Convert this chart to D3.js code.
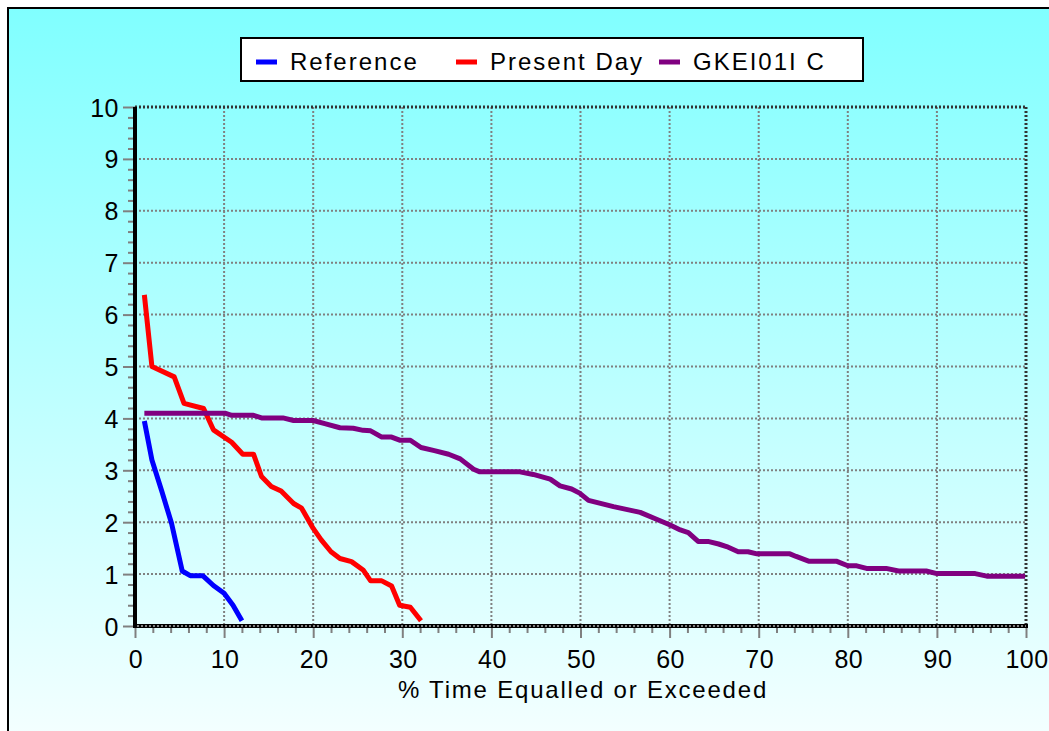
<!DOCTYPE html>
<html>
<head>
<meta charset="utf-8">
<script src="https://cdn.jsdelivr.net/npm/d3@7"></script>
<style>
  body { margin: 0; background: #fff; }
  svg { display: block; font-family: "Liberation Sans", Arial, sans-serif; }
</style>
</head>
<body>
<div class="chart"></div>
<script>

///////////////////////////////////////////////////
//  Data
///////////////////////////////////////////////////

const seriesNames = ['Reference', 'Present Day', 'GKEI01I C'];
const seriesColors = ['#0000ff', '#ff0000', '#800080'];

const refX = [1.05, 1.9, 3.0, 4.1, 5.3, 6.2, 7.6, 8.8, 10.0, 11.0, 12.0];
const refY = [3.95, 3.2, 2.6, 1.98, 1.06, 0.97, 0.97, 0.78, 0.63, 0.4, 0.1];

const presentX = [1.05, 1.9, 4.4, 5.5, 7.7, 8.8, 10.85, 12.1, 13.3, 14.2, 15.3, 16.4,
  17.8, 18.7, 20.0, 20.9, 22.0, 23.0, 24.3, 25.6, 26.45, 27.7, 28.8, 29.7, 30.9, 32.1];
const presentY = [6.38, 5.0, 4.8, 4.29, 4.19, 3.78, 3.54, 3.31, 3.31, 2.88, 2.69, 2.6,
  2.36, 2.27, 1.88, 1.66, 1.43, 1.3, 1.24, 1.08, 0.87, 0.87, 0.77, 0.4, 0.36, 0.1];

const gkeiX = [1.05, 10.1, 10.85, 13.3, 14.2, 16.6, 17.8, 20.0, 21.3, 23.0, 24.5, 25.6,
  26.45, 27.7, 28.8, 29.7, 30.9, 32.1, 33.6, 35.2, 36.5, 38.0, 38.7, 43.2, 44.7, 46.6,
  47.7, 49.0, 49.9, 50.9, 53.7, 56.7, 58.2, 60.0, 61.2, 62.1, 63.2, 64.3, 65.5, 66.4,
  67.7, 68.8, 69.8, 73.5, 74.2, 75.6, 78.7, 80.0, 81.0, 82.1, 84.3, 85.7, 88.8, 90.0,
  94.3, 95.6, 99.9];
const gkeiY = [4.1, 4.1, 4.06, 4.06, 4.01, 4.01, 3.96, 3.96, 3.9, 3.82, 3.81, 3.77,
  3.76, 3.64, 3.64, 3.58, 3.58, 3.44, 3.38, 3.31, 3.22, 3.02, 2.97, 2.97, 2.92, 2.83,
  2.7, 2.64, 2.56, 2.42, 2.3, 2.19, 2.08, 1.95, 1.85, 1.8, 1.63, 1.63, 1.58, 1.53,
  1.43, 1.43, 1.39, 1.39, 1.34, 1.25, 1.25, 1.16, 1.16, 1.11, 1.11, 1.06, 1.06, 1.01,
  1.01, 0.96, 0.96];

const xTicks = [0, 10, 20, 30, 40, 50, 60, 70, 80, 90, 100];
const yTicks = [0, 1, 2, 3, 4, 5, 6, 7, 8, 9, 10];
const xTitle = '% Time Equalled or Exceeded';

///////////////////////////////////////////////////
//  Main code
///////////////////////////////////////////////////

const width = 1049;
const height = 731;
const plot = { left: 135, right: 1026, top: 107, bottom: 626 };
const grey = '#808080';

let svg = d3.select('.chart')
  .append('svg')
    .attr('width', width)
    .attr('height', height);

// background gradient
let grad = svg.append('defs')
  .append('linearGradient')
    .attr('id', 'bg')
    .attr('x1', 0).attr('y1', 0)
    .attr('x2', 0).attr('y2', 1);
grad.append('stop').attr('offset', '0%').attr('stop-color', '#80ffff');
grad.append('stop').attr('offset', '100%').attr('stop-color', '#f4ffff');

svg.append('rect')
  .attr('x', 8).attr('y', 8)
  .attr('width', width).attr('height', height)
  .style('fill', 'url(#bg)')
  .style('stroke', '#000')
  .style('stroke-width', 2);

let x = d3.scaleLinear().domain([0, 100]).range([plot.left, plot.right]);
let y = d3.scaleLinear().domain([0, 10]).range([plot.bottom, plot.top]);

// grid
svg.append('g')
  .selectAll('line')
  .data(yTicks.slice(1, -1))
  .enter()
  .append('line')
    .attr('x1', plot.left).attr('x2', plot.right)
    .attr('y1', d => y(d)).attr('y2', d => y(d))
    .style('stroke', grey)
    .style('stroke-width', 2)
    .style('stroke-dasharray', '2,2');

svg.append('g')
  .selectAll('line')
  .data(xTicks.slice(1, -1))
  .enter()
  .append('line')
    .attr('x1', d => x(d)).attr('x2', d => x(d))
    .attr('y1', plot.top).attr('y2', plot.bottom)
    .style('stroke', grey)
    .style('stroke-width', 2)
    .style('stroke-dasharray', '2,2');

// top and right border (dotted)
[[plot.left, plot.top, plot.right, plot.top], [plot.right, plot.top, plot.right, plot.bottom]]
  .forEach(function (l) {
    svg.append('line')
      .attr('x1', l[0]).attr('y1', l[1]).attr('x2', l[2]).attr('y2', l[3])
      .style('stroke', '#333')
      .style('stroke-width', 3)
      .style('stroke-dasharray', '2,2');
  });

// minor ticks
let xMinor = d3.range(0, 101, 2).filter(d => d % 10 !== 0);
let yMinor = d3.range(0, 10.01, 0.2).filter(d => Math.abs(d - Math.round(d)) > 0.01);

svg.append('g')
  .attr('transform', `translate(0, ${plot.bottom})`)
  .call(d3.axisBottom(x).tickValues(xMinor).tickSize(7).tickFormat(''))
  .call(g => g.select('.domain').remove())
  .call(g => g.selectAll('line').style('stroke', grey).style('stroke-width', 2));

svg.append('g')
  .attr('transform', `translate(${plot.left}, 0)`)
  .call(d3.axisLeft(y).tickValues(yMinor).tickSize(7).tickFormat(''))
  .call(g => g.select('.domain').remove())
  .call(g => g.selectAll('line').style('stroke', grey).style('stroke-width', 2));

// major ticks + labels
let xAxis = svg.append('g')
  .attr('transform', `translate(0, ${plot.bottom})`)
  .call(d3.axisBottom(x).tickValues(xTicks).tickSize(12).tickFormat(d3.format('d')));
xAxis.select('.domain').remove();
xAxis.selectAll('line').style('stroke', grey).style('stroke-width', 2);
xAxis.selectAll('text')
  .attr('y', 42).attr('dy', null)
  .attr('dx', '0.5px')
  .style('font-size', '25px')
  .style('letter-spacing', '0.5px')
  .style('fill', '#000')
  .style('font-family', '"Liberation Sans", Arial, sans-serif');

let yAxis = svg.append('g')
  .attr('transform', `translate(${plot.left}, 0)`)
  .call(d3.axisLeft(y).tickValues(yTicks).tickSize(12).tickPadding(4).tickFormat(d3.format('d')));
yAxis.select('.domain').remove();
yAxis.selectAll('line').style('stroke', grey).style('stroke-width', 2);
yAxis.selectAll('text')
  .attr('dy', '0.36em')
  .style('font-size', '25px')
  .style('letter-spacing', '0.5px')
  .style('fill', '#000')
  .style('font-family', '"Liberation Sans", Arial, sans-serif');

// left and bottom axis lines
svg.append('line')
  .attr('x1', plot.left).attr('x2', plot.left)
  .attr('y1', plot.top).attr('y2', plot.bottom + 2)
  .style('stroke', '#000')
  .style('stroke-width', 4);

svg.append('line')
  .attr('x1', plot.left).attr('x2', plot.right + 2)
  .attr('y1', plot.bottom).attr('y2', plot.bottom)
  .style('stroke', '#000')
  .style('stroke-width', 4);
svg.append('line')
  .attr('x1', plot.left + 2).attr('x2', plot.right)
  .attr('y1', plot.bottom).attr('y2', plot.bottom)
  .style('stroke', grey)
  .style('stroke-width', 2)
  .style('stroke-dasharray', '2,2');

// series
let seriesData = [
  d3.zip(refX, refY),
  d3.zip(presentX, presentY),
  d3.zip(gkeiX, gkeiY)
];

let line = d3.line()
  .x(d => x(d[0]))
  .y(d => y(d[1]));

svg.append('g')
  .selectAll('path')
  .data(seriesData)
  .enter()
  .append('path')
    .attr('d', line)
    .style('fill', 'none')
    .style('stroke', (d, i) => seriesColors[i])
    .style('stroke-width', 5)
    .style('stroke-linejoin', 'round');

// x title
svg.append('text')
  .attr('x', 583)
  .attr('y', 698)
  .attr('text-anchor', 'middle')
  .style('font-size', '24px')
  .style('letter-spacing', '1.8px')
  .text(xTitle);

// legend
let legend = svg.append('g');
legend.append('rect')
  .attr('x', 241).attr('y', 38)
  .attr('width', 622).attr('height', 43)
  .style('fill', '#fff')
  .style('stroke', '#000')
  .style('stroke-width', 2);

const legendX = [256, 456, 659];
seriesNames.forEach(function (name, i) {
  legend.append('line')
    .attr('x1', legendX[i]).attr('x2', legendX[i] + 21)
    .attr('y1', 62).attr('y2', 62)
    .style('stroke', seriesColors[i])
    .style('stroke-width', 5);
  legend.append('text')
    .attr('x', legendX[i] + 34)
    .attr('y', 70)
    .style('font-size', '24px')
    .style('letter-spacing', '2px')
    .text(name);
});
</script>
</body>
</html>
